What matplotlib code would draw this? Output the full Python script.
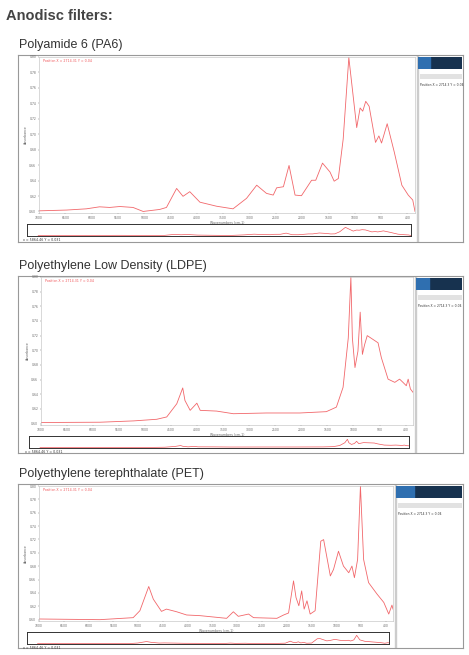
import matplotlib.pyplot as plt
from matplotlib.patches import Rectangle

# Spectra: position across the plot (0-100) and relative intensity (0-100)
pa6_x = [0, 7.3, 12.6, 16.1, 18.8, 21.5, 25, 27.7, 32.1, 33.9, 36.6, 38.3, 40.1, 42.8, 47.2, 51.6, 55.2,
         57.9, 60.5, 62.3, 63.2, 65, 66.5, 68.1, 69.8, 72.5, 73.6, 75.4, 77.4, 78.5, 79.6, 80.9, 82.4,
         84.5, 85.4, 86.1, 86.9, 87.8, 89.5, 90.4, 91.1, 92.6, 94.5, 96.5, 98.2, 99.4, 100]
pa6_y = [0.4, 0.9, 1.7, 3.0, 2.6, 3.2, 2.6, 0, 1.3, 2.6, 14.9, 9.8, 12.8, 6.0, 3.4, 1.7, 8.5,
         17, 11.7, 10.6, 15.3, 16, 29.8, 10.6, 10.2, 20.2, 20.2, 31.3, 25.5, 19.6, 21.3, 46.8, 99.6,
         54.3, 67, 64.9, 71.3, 68.1, 44.7, 48.9, 44.3, 56.8, 38.3, 17, 10.6, 7.4, 0]

ldpe_x = [0, 15.9, 24.9, 31.1, 33.8, 36.5, 38.1, 38.7, 40.1, 41.9, 42.8, 47.2, 51.7, 60.6, 69.6, 76.7,
          79.4, 81.2, 82.6, 83.3, 83.7, 84.4, 85.2, 85.8, 86.4, 87, 87.7, 89.3, 90.6, 91.5, 93.3, 95.1,
          96.4, 97.3, 98.2, 98.7, 99.3, 100]
ldpe_y = [0.7, 0.9, 1.8, 2.9, 4.5, 13.5, 24.3, 15.7, 9, 13.9, 9, 8.5, 6.7, 7.2, 7.2, 8.1,
          11.2, 24.7, 58.4, 100, 58.4, 38.2, 49.4, 76, 47.2, 53.9, 60, 57.3, 55.1, 44.9, 30.3, 28.1,
          30.3, 28.1, 25.8, 30.3, 23.6, 21.3]

pet_x = [0, 17.2, 26.6, 28.5, 31, 32.3, 34.6, 36, 38.9, 41.7, 45.5, 53, 54.9, 56.3, 59.2, 60.6, 67.2,
         69.1, 70.5, 71.9, 72.6, 73.4, 74.2, 74.9, 75.7, 76.6, 78, 79.6, 80.4, 82.3, 83.2, 84.6, 86,
         87.5, 88.4, 89.1, 90, 90.8, 91.7, 93.1, 95.5, 97.4, 98.8, 99.7, 100]
pet_y = [0.5, 0, 1.5, 6.7, 24.8, 15.3, 6.2, 7.9, 5.9, 3.5, 3, 1, 5.9, 2.5, 4.2, 1.5, 1,
         3.5, 5, 29, 16.6, 10.4, 21.5, 7.9, 14.1, 4.2, 6.7, 58.7, 59.9, 32.7, 37.6, 51.2, 40.1,
         35.1, 40.1, 31.4, 45, 100, 45, 27.7, 19.1, 12.9, 4.2, 10.9, 7.9]

wn_labels = ['7000', '6500', '6000', '5500', '5000', '4500', '4000', '3500', '3000',
             '2500', '2000', '1500', '1000', '500', '400']

W, H = 469, 655
fig = plt.figure(figsize=(W / 100, H / 100), dpi=100)
RED = '#f0565a'


def ax_px(x0, y0, x1, y1):
    return fig.add_axes([x0 / W, 1 - y1 / H, (x1 - x0) / W, (y1 - y0) / H])


fig.text(6 / W, 1 - 16 / H, 'Anodisc filters:', fontsize=10.5, fontweight='bold',
         color='#444444', va='center', family='Liberation Sans')


def panel(title, top, bot, px0, px1, ptop, pbot, side_x, xs, ys):
    fig.text(19 / W, 1 - (top - 10) / H, title, fontsize=9, color='#333333', va='center',
             family='Liberation Sans')
    frame = ax_px(18, top, 463, bot)
    frame.set_xticks([]); frame.set_yticks([])
    for s in frame.spines.values():
        s.set_color('#999999'); s.set_linewidth(0.8)
    frame.add_patch(Rectangle(((side_x - 18) / 445, 0), 0.002, 1, transform=frame.transAxes,
                              color='#cccccc'))
    # sidebar
    sb = ax_px(side_x + 1, top + 2, 462, top + 14)
    sb.set_facecolor('#17324f'); sb.set_xticks([]); sb.set_yticks([])
    sb.add_patch(Rectangle((0, 0), 0.28, 1, color='#2f6fb0'))
    for s in sb.spines.values():
        s.set_visible(False)
    grey = ax_px(side_x + 3, top + 19, 462, top + 24)
    grey.set_facecolor('#e2e2e2'); grey.set_xticks([]); grey.set_yticks([])
    for s in grey.spines.values():
        s.set_visible(False)
    fig.text((side_x + 3) / W, 1 - (top + 30) / H, 'Position X = 2714.3 Y = 0.04', fontsize=2.2,
             color='#333333', va='center')
    # main plot
    ax = ax_px(px0, ptop, px1, pbot)
    ax.plot(xs, ys, color=RED, lw=0.6, alpha=0.9)
    ax.set_xlim(0, 100); ax.set_ylim(-1, 100)
    ax.set_xticks(range(0, 100, 7))
    ax.set_xticklabels(wn_labels)
    ax.set_yticks(range(0, 101, 10))
    ax.set_yticklabels(['%.2f' % (0.6 + 0.02 * i) for i in range(11)])
    ax.tick_params(labelsize=2.2, length=1, width=0.3, colors='#666666', pad=1)
    for s in ax.spines.values():
        s.set_color('#bbbbbb'); s.set_linewidth(0.4)
    ax.set_xlabel('Wavenumbers (cm-1)', fontsize=2.3, color='#666666', labelpad=1)
    ax.set_ylabel('Absorbance', fontsize=2.3, color='#666666', labelpad=1)
    ax.text(0.01, 0.985, 'Position X = 2714.31 Y = 0.04', transform=ax.transAxes, fontsize=2.3,
            color=RED, va='top')
    # navigator
    nav = ax_px(px0 - 12, pbot + 11, px1 - 4, pbot + 23)
    nav.plot(xs, ys, color=RED, lw=0.5)
    nav.set_xlim(-3, 100); nav.set_ylim(-5, 140)
    nav.set_xticks([]); nav.set_yticks([])
    for s in nav.spines.values():
        s.set_color('#333333'); s.set_linewidth(0.7)
    fig.text((px0 - 16) / W, 1 - (pbot + 27) / H, 'x = 5864.46 Y = 0.031', fontsize=2.3,
             color='#333333', va='center')


panel('Polyamide 6 (PA6)', 55, 242, 39, 415, 57, 213, 417, pa6_x, pa6_y)
panel('Polyethylene Low Density (LDPE)', 276, 453, 41, 413, 277, 425, 415, ldpe_x, ldpe_y)
panel('Polyethylene terephthalate (PET)', 484, 648, 39, 393, 486, 621, 395, pet_x, pet_y)

fig.savefig('out.png', dpi=100)
